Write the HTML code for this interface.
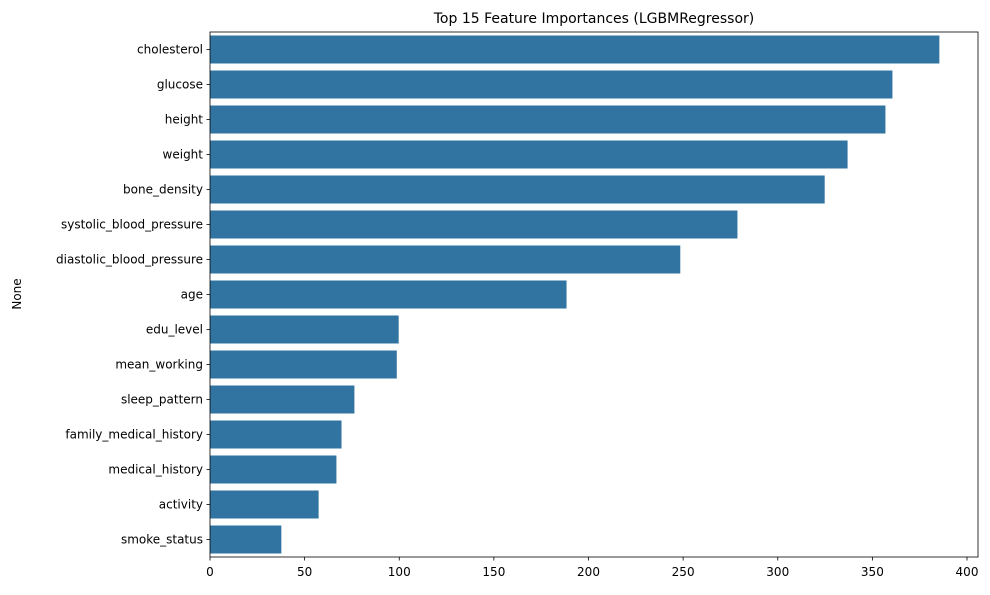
<!DOCTYPE html>
<html><head><meta charset="utf-8"><style>
body{margin:0;background:#fff;}
svg text{font-family:"DejaVu Sans","Liberation Sans",sans-serif;fill:#000;}
</style></head><body>
<svg id="chart" width="990" height="590" xmlns="http://www.w3.org/2000/svg">
<text x="594" y="23" font-size="14" text-anchor="middle">Top 15 Feature Importances (LGBMRegressor)</text>
<text transform="translate(21,294) rotate(-90)" font-size="12" text-anchor="middle">None</text>
<g id="bars"></g>
<g id="axes"></g>
</svg>
<script>
const categories=["cholesterol","glucose","height","weight","bone_density","systolic_blood_pressure","diastolic_blood_pressure","age","edu_level","mean_working","sleep_pattern","family_medical_history","medical_history","activity","smoke_status"];
const values=[385.4,360.6,356.9,336.9,324.8,278.7,248.5,188.4,99.7,98.7,76.3,69.5,66.8,57.4,37.7];
const xTicks=[0,50,100,150,200,250,300,350,400];
const NS="http://www.w3.org/2000/svg";
const L=210,R=978,T=32,B=557;
const x=v=>L+v*(967-L)/400;
const slot=(B-T)/categories.length;
const y=i=>T+slot*i;
const bars=document.getElementById('bars');
const axes=document.getElementById('axes');
function mk(tag,attrs,parent){const e=document.createElementNS(NS,tag);for(const k in attrs)e.setAttribute(k,attrs[k]);parent.appendChild(e);return e;}
categories.forEach((c,i)=>{
  const r=mk('rect',{x:x(0),y:y(i)+slot*0.1,width:x(values[i])-x(0),height:slot*0.8,fill:'#3274a1'},bars);
  
  
  const cy=y(i)+slot/2;
  mk('line',{x1:L-3.5,x2:L,y1:cy,y2:cy,stroke:'#000','stroke-width':0.8},axes);
  const t=mk('text',{x:L-7,y:cy+4,'font-size':12,'text-anchor':'end'},axes);
  t.textContent=c;
  
  
});
xTicks.forEach(v=>{
  mk('line',{x1:x(v),x2:x(v),y1:B,y2:B+3.5,stroke:'#000','stroke-width':0.8},axes);
  const t=mk('text',{x:x(v),y:B+19,'font-size':12,'text-anchor':'middle'},axes);
  t.textContent=v;
  
  
});
const fr=mk('rect',{x:L,y:T,width:R-L,height:B-T,fill:'none',stroke:'#000','stroke-width':0.8},axes);


</script>
</body></html>
